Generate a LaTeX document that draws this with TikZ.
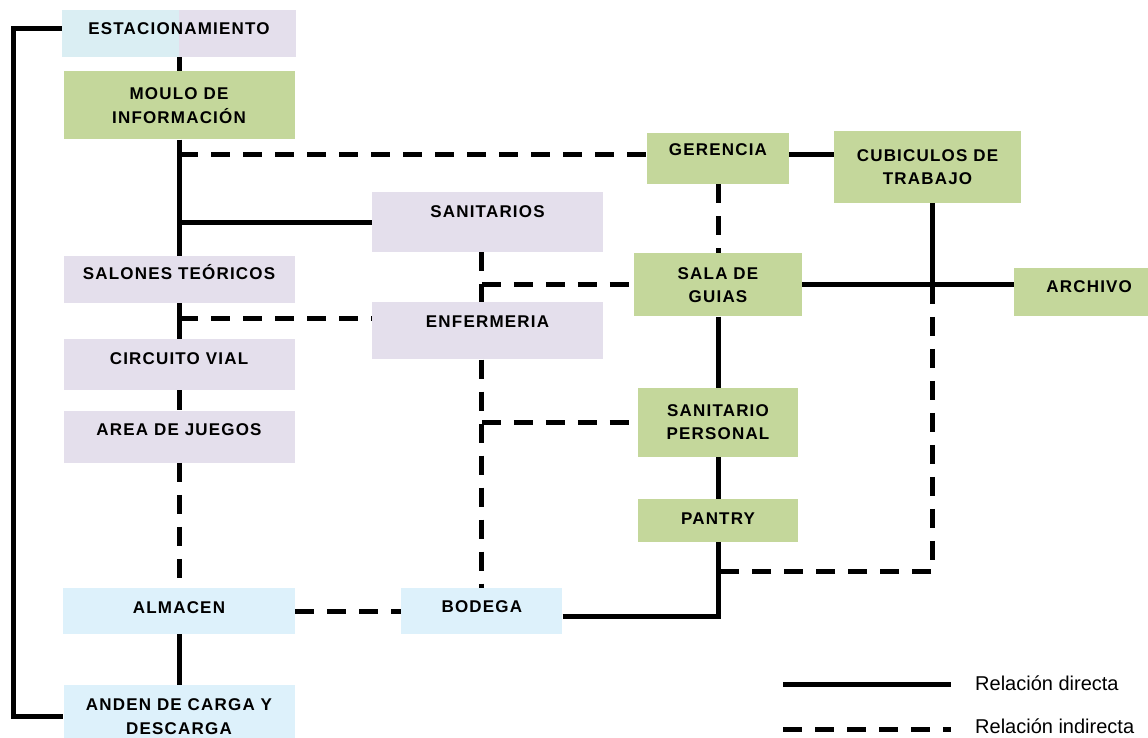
\documentclass[tikz,border=0pt]{standalone}
\usepackage{fontspec}
\setmainfont{Liberation Sans}
\newfontfamily\roomfamily[LetterSpace=7]{Liberation Sans}
\usepackage{xcolor}
\usetikzlibrary{positioning}
\definecolor{roomgreen}{RGB}{196,215,155}
\definecolor{roomlilac}{RGB}{228,223,236}
\definecolor{roomblue}{RGB}{221,241,251}
\definecolor{parkblue}{RGB}{218,238,243}
\newcommand{\roomfont}{\roomfamily\fontsize{17}{23.5}\selectfont\bfseries}
\newcommand{\legfont}{\fontsize{20}{22}\selectfont}

\begin{document}
\begin{tikzpicture}[
    x=1pt, y=1pt,
    room/.style={inner sep=0pt, align=center, font=\roomfont},
    dims/.style 2 args={minimum width=#1, minimum height=#2},
    raised/.style={text height=12pt, text depth=#1},
    admin/.style={room, fill=roomgreen},
    service/.style={room, fill=roomlilac},
    loading/.style={room, fill=roomblue},
    direct/.style={line width=5pt},
    indirect/.style={line width=5pt, dash pattern=on 19pt off 13pt},
    legtext/.style={font=\legfont, inner sep=0pt, anchor=base west}
  ]
  \useasboundingbox (0,0) rectangle (1148,-738);

  % --- Left column ---
  \node[room, raised=9pt, dims={234pt}{47pt}, fill=parkblue,
    path picture={\fill[roomlilac] (path picture bounding box.north) rectangle (path picture bounding box.south east);}]
    (est) at (179,-33.5) {ESTACIONAMIENTO};
  \node[admin, dims={231pt}{68pt}, below=14pt of est] (moulo) {MOULO DE\\INFORMACIÓN};
  \node[service, raised=12pt, dims={231pt}{47pt}, below=116pt of moulo] (salones) {SALONES TEÓRICOS};
  \node[service, raised=12pt, dims={231pt}{51pt}, below=36pt of salones] (circuito) {CIRCUITO VIAL};
  \node[service, raised=14pt, dims={231pt}{52pt}, below=20pt of circuito] (juegos) {AREA DE JUEGOS};
  \node[loading, raised=7pt, dims={232pt}{46pt}, below=125pt of juegos] (almacen) {ALMACEN};
  \node[loading, dims={231pt}{62pt}, below=51pt of almacen] (anden) {ANDEN DE CARGA Y\\DESCARGA};

  % --- Middle column ---
  \node[service, raised=21pt, dims={231pt}{60pt}] (sanitarios) at (487.5,-222) {SANITARIOS};
  \node[service, raised=19pt, dims={231pt}{57pt}, below=50pt of sanitarios] (enfermeria) {ENFERMERIA};
  \node[loading, raised=8.5pt, dims={161pt}{46pt}, right=106pt of almacen] (bodega) {BODEGA};

  % --- Right column ---
  \node[admin, raised=17pt, dims={142pt}{51pt}] (gerencia) at (718,-158.5) {GERENCIA};
  \node[admin, dims={187pt}{72pt}] (cubiculos) at (927.5,-167) {CUBICULOS DE\\TRABAJO};
  \node[admin, dims={168pt}{63pt}, below=69pt of gerencia] (sala) {SALA DE\\GUIAS};
  \node[admin, dims={160pt}{69pt}, below=71pt of sala] (sanpers) {SANITARIO\\PERSONAL};
  \node[admin, raised=4.5pt, dims={160pt}{43pt}, below=42pt of sanpers] (pantry) {PANTRY};
  \node[admin, raised=12pt, dims={150pt}{48pt}, anchor=north west] (archivo) at (1014,-268) {ARCHIVO};

  % --- Helper points ---
  \coordinate (cb) at ([xshift=5pt]cubiculos.south);
  \coordinate (jn) at (cb |- sala.east);
  \coordinate (pj) at ([yshift=-29pt]pantry.south);

  % --- Direct relations ---
  \draw[direct] ([yshift=5pt]est.west) -- ++(-48pt,0) |- (anden.west);
  \draw[direct] (est.south) -- (moulo.north);
  \draw[direct] (moulo.south) -- (salones.north);
  \draw[direct] (sanitarios.west) -- (sanitarios.west -| moulo.south);
  \draw[direct] (salones.south) -- (circuito.north);
  \draw[direct] (circuito.south) -- (juegos.north);
  \draw[direct] (almacen.south) -- (anden.north);
  \draw[direct] ([yshift=4pt]gerencia.east) -- ([yshift=4pt]gerencia.east -| cubiculos.west);
  \draw[direct] (cb) -- (jn);
  \draw[direct] (sala.east) -- (sala.east -| archivo.west);
  \draw[direct] (sala.south) -- (sanpers.north);
  \draw[direct] (sanpers.south) -- (pantry.north);
  \draw[direct] ([yshift=-5pt]bodega.east) -| (pantry.south);

  % --- Indirect relations ---
  \draw[indirect] ([yshift=4pt]gerencia.west -| moulo.south) -- ([yshift=4pt]gerencia.west);
  \draw[indirect] (gerencia.south) -- (sala.north);
  \draw[indirect] ([yshift=12pt]enfermeria.west -| salones.south) -- ([yshift=12pt]enfermeria.west);
  \draw[indirect] (juegos.south) -- (almacen.north);
  \draw[indirect] (almacen.east) -- (bodega.west);
  \draw[indirect] (sanitarios.south -| bodega.north) -- (enfermeria.north -| bodega.north);
  \draw[indirect] (enfermeria.south -| bodega.north) -- (bodega.north);
  \draw[indirect] (sala.west -| bodega.north) -- (sala.west);
  \draw[indirect] (sanpers.west -| bodega.north) -- (sanpers.west);
  \draw[indirect] (jn) |- (pj);

  % --- Legend ---
  \node[legtext] (ldir) at (975,-690) {Relación directa};
  \node[legtext] (lind) at (975,-733) {Relación indirecta};
  \coordinate (ld0) at (783,-684.5);
  \coordinate (ld1) at (951,-684.5);
  \coordinate (li0) at (783,-729);
  \coordinate (li1) at (951,-729);
  \draw[direct] (ld0) -- (ld1);
  \draw[indirect] (li0) -- (li1);

\end{tikzpicture}
\end{document}
